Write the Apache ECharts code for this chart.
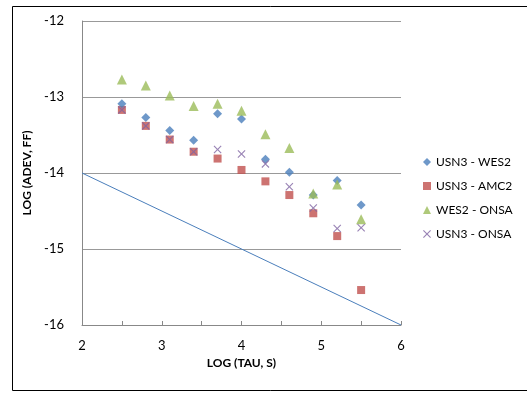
<!DOCTYPE html>
<html><head><meta charset="utf-8">
<script src="https://cdn.jsdelivr.net/npm/echarts@6/dist/echarts.min.js"></script>
<style>html,body{margin:0;padding:0;background:#fff}#c{width:527px;height:393px}</style>
</head><body><div id="c"></div>
<script>
const tau = [2.5, 2.8, 3.1, 3.4, 3.7, 4.0, 4.3, 4.6, 4.9, 5.2, 5.5];
const usn3Wes2 = [-13.09, -13.27, -13.44, -13.57, -13.22, -13.29, -13.82, -13.99, -14.29, -14.10, -14.42];
const usn3Amc2 = [-13.17, -13.38, -13.56, -13.72, -13.81, -13.96, -14.11, -14.29, -14.53, -14.83, -15.54];
const wes2Onsa = [-12.77, -12.85, -12.98, -13.12, -13.09, -13.18, -13.49, -13.67, -14.27, -14.15, -14.61];
const usn3Onsa = [-13.17, -13.38, -13.56, -13.72, -13.69, -13.75, -13.88, -14.18, -14.46, -14.73, -14.72];
const refLineX = [2, 6];
const refLineY = [-14, -16];
const names = ['USN3 - WES2', 'USN3 - AMC2', 'WES2 - ONSA', 'USN3 - ONSA'];
const xTicks = [2, 3, 4, 5, 6];
const yTicks = [-16, -15, -14, -13, -12];

const font = 'Lato, "Open Sans", sans-serif';
const pair = (xs, ys) => xs.map((x, i) => [x, ys[i]]);
const xPath = 'path://M0,1L1,0L5,4L9,0L10,1L6,5L10,9L9,10L5,6L1,10L0,9L4,5Z';

const chart = echarts.init(document.getElementById('c'), null, {renderer: 'canvas'});
chart.setOption({
  animation: false,
  backgroundColor: '#fff',
  graphic: [{type: 'rect', shape: {x: 12.5, y: 6.5, width: 530, height: 384}, style: {fill: 'none', stroke: '#000', lineWidth: 1}, z: -1}],
  grid: {left: 82, right: 126, top: 21, bottom: 68},
  legend: {
    orient: 'vertical', left: 418, top: 151, itemGap: 12, itemWidth: 8, itemHeight: 8,
    data: names, textStyle: {fontFamily: font, fontSize: 12, color: '#000'}
  },
  xAxis: {
    type: 'value', min: 2, max: 6, interval: 0.5,
    name: 'LOG (TAU, S)', nameLocation: 'middle', nameGap: 32,
    nameTextStyle: {fontFamily: font, fontSize: 12, fontWeight: 'bold', color: '#000'},
    axisLine: {lineStyle: {color: '#888'}},
    axisTick: {show: true, inside: true, length: 4, lineStyle: {color: '#888'}},
    axisLabel: {fontFamily: font, fontSize: 13, color: '#000', margin: 14,
      formatter: v => xTicks.includes(v) ? String(v) : ''},
    splitLine: {show: false}
  },
  yAxis: {
    type: 'value', min: -16, max: -12, interval: 1,
    name: 'LOG (ADEV, FF)', nameLocation: 'middle', nameGap: 45, nameRotate: 90,
    nameTextStyle: {fontFamily: font, fontSize: 12, fontWeight: 'bold', color: '#000'},
    axisLine: {show: true, lineStyle: {color: '#888'}},
    axisTick: {show: false},
    axisLabel: {fontFamily: font, fontSize: 13, color: '#000', margin: 18,
      formatter: v => yTicks.includes(v) ? String(v) : ''},
    splitLine: {show: true, lineStyle: {color: '#999', width: 1}}
  },
  series: [
    {type: 'line', data: pair(refLineX, refLineY), symbol: 'none', silent: true,
      lineStyle: {color: '#4a7ebb', width: 1}, z: 1},
    {name: names[0], type: 'scatter', data: pair(tau, usn3Wes2), symbol: 'diamond', symbolSize: 9,
      itemStyle: {color: '#4a7ebb'}, z: 3},
    {name: names[1], type: 'scatter', data: pair(tau, usn3Amc2), symbol: 'rect', symbolSize: 8,
      itemStyle: {color: '#c0504d'}, z: 2},
    {name: names[2], type: 'scatter', data: pair(tau, wes2Onsa), symbol: 'triangle', symbolSize: 10,
      itemStyle: {color: '#9bbb59'}, z: 4},
    {name: names[3], type: 'scatter', data: pair(tau, usn3Onsa), symbol: xPath, symbolSize: 8,
      itemStyle: {color: '#8064a2'}, z: 5}
  ]
});
</script></body></html>
